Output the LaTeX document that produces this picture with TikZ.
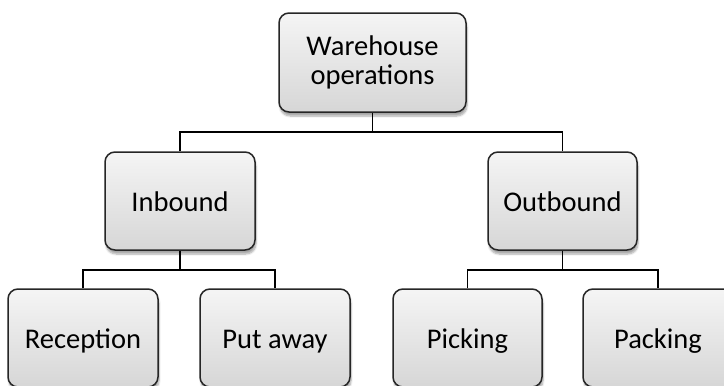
\documentclass[tikz,border=0pt]{standalone}
\usepackage{fontspec}
\setmainfont{Carlito}
\usetikzlibrary{shadows.blur}
\begin{document}
\begin{tikzpicture}[x=1pt,y=-1pt,
  box/.style={draw=black!85, line width=1.5pt, rounded corners=10pt,
    top color=gray!8, bottom color=gray!32,
    minimum width=150pt, minimum height=98pt, align=center,
    font=\fontsize{28.5}{29}\selectfont,
    blur shadow={shadow xshift=1pt, shadow yshift=-4pt,
      shadow blur steps=6, shadow opacity=35}},
  leaf/.style={box, text height=23.5pt, text depth=3pt},
  link/.style={draw=black, line width=1.6pt}]
\useasboundingbox (0,0) rectangle (724,386);
\clip (0,0) rectangle (724,386);

% tree nodes
\node[box, minimum width=187pt, minimum height=99pt] (root) at (372.5,62.5) {Warehouse\\operations};
\node[leaf] (inb)  at (180,201)   {Inbound};
\node[leaf, minimum width=149pt] (outb) at (562.5,201) {Outbound};
\node[leaf] (rec)  at (83,338)    {Reception};
\node[leaf] (put)  at (275,338)   {Put away};
\node[leaf, minimum width=149pt] (pick) at (467.5,338) {Picking};
\node[leaf] (pack) at (658,338)   {Packing};

% elbow connectors
\draw[link] (root.south) -- ++(0,19) coordinate (j0);
\draw[link] (inb.north) |- (j0) -| (outb.north);
\draw[link] (inb.south) -- ++(0,19) coordinate (j1);
\draw[link] (rec.north) |- (j1) -| (put.north);
\draw[link] (outb.south) -- ++(0,19) coordinate (j2);
\draw[link] (pick.north) |- (j2) -| (pack.north);
\end{tikzpicture}
\end{document}
